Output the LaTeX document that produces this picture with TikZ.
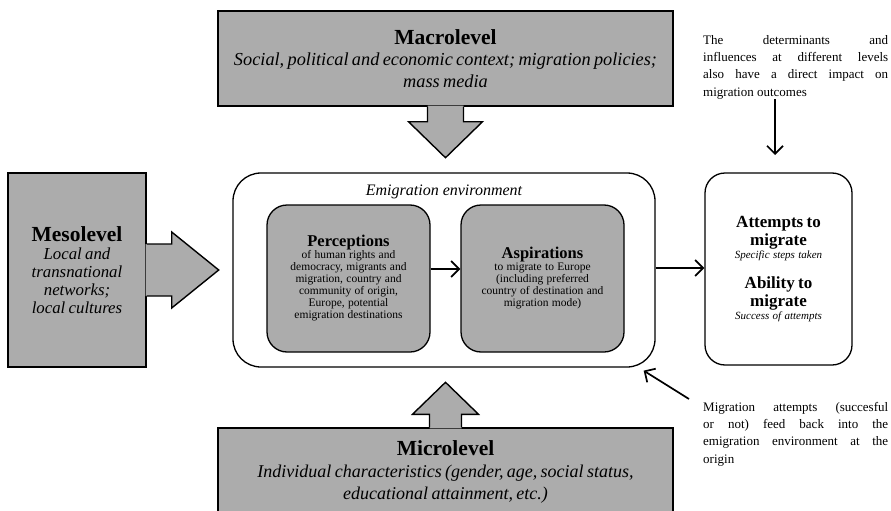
\documentclass[tikz,border=0pt]{standalone}
\usepackage{fontspec}
\setmainfont{Liberation Serif}
\usetikzlibrary{arrows.meta, calc}
\definecolor{levelgray}{RGB}{172,172,172}

\begin{document}
\begin{tikzpicture}[x=1pt, y=-1pt,
    levelbox/.style={draw, line width=1.4pt, fill=levelgray, inner sep=3pt, align=center},
    envbox/.style={draw, line width=1.3pt, rounded corners=28pt, inner sep=0pt},
    innerbox/.style={draw, line width=1.3pt, fill=levelgray, rounded corners=20pt, inner sep=3pt,
        text width=157pt, minimum width=163pt, minimum height=147pt, align=center},
    fatfill/.style={fill=levelgray},
    fatline/.style={line width=1.4pt, line join=miter},
    flow/.style={line width=1.7pt, -{Straight Barb[length=8pt, width=16pt, line width=1.7pt]}},
    note/.style={text width=185pt, align=justify, inner sep=0pt, anchor=north west,
        font=\fontsize{13}{17.3}\selectfont}]

    \useasboundingbox (0,0) rectangle (891,511);

    % the three levels
    \node (macro) [levelbox, text width=445pt, minimum width=455pt, minimum height=95pt] at (445.5,58.5)
        {{\fontsize{21.5}{24}\selectfont\bfseries Macrolevel\par}
         {\fontsize{18.3}{21.5}\selectfont\itshape Social, political and economic context; migration policies;\\ mass media\par}};
    \node (meso) [levelbox, text width=132pt, minimum width=138pt, minimum height=194pt] at (77,270)
        {{\fontsize{21.5}{24}\selectfont\bfseries Mesolevel\par}
         {\fontsize{16.8}{18}\selectfont\itshape Local and\\ transnational\\ networks;\\ local cultures\par}};
    \node (micro) [levelbox, text width=445pt, minimum width=455pt, minimum height=87pt] at (445.5,471.5)
        {{\fontsize{21.5}{24}\selectfont\bfseries Microlevel\par}
         {\fontsize{18}{22}\selectfont\itshape Individual characteristics (gender, age, social status,\\ educational attainment, etc.)\par}};

    % block arrows
    \fill[fatfill] ($(macro.south)+(-18,-1)$) -- ++(0,16) -- ++(-19,0) -- ($(macro.south)+(0,51)$)
        -- ($(macro.south)+(37,15)$) -- ++(-19,0) -- ++(0,-16) -- cycle;
    \draw[fatline] ($(macro.south)+(-18,0)$) -- ++(0,15) -- ++(-19,0) -- ($(macro.south)+(0,51)$)
        -- ($(macro.south)+(37,15)$) -- ++(-19,0) -- ++(0,-15);
    \fill[fatfill] ($(micro.north)+(-16,1)$) -- ++(0,-14) -- ++(-17,0) -- ($(micro.north)+(0,-45)$)
        -- ($(micro.north)+(33,-13)$) -- ++(-17,0) -- ++(0,14) -- cycle;
    \draw[fatline] ($(micro.north)+(-16,0)$) -- ++(0,-13) -- ++(-17,0) -- ($(micro.north)+(0,-45)$)
        -- ($(micro.north)+(33,-13)$) -- ++(-17,0) -- ++(0,13);
    \fill[fatfill] ($(meso.east)+(-1,-26)$) -- ++(26,0) -- ++(0,-12) -- ($(meso.east)+(72,0)$)
        -- ($(meso.east)+(25,38)$) -- ++(0,-12) -- ++(-26,0) -- cycle;
    \draw[fatline] ($(meso.east)+(0,-26)$) -- ++(25,0) -- ++(0,-12) -- ($(meso.east)+(72,0)$)
        -- ($(meso.east)+(25,38)$) -- ++(0,-12) -- ++(-25,0);

    % emigration environment
    \node (env) [envbox, minimum width=422pt, minimum height=194pt] at (444,270) {};
    \node (envlabel) [font=\fontsize{16}{18}\selectfont\itshape] at (444,192) {Emigration environment};
    \node (percep) [innerbox] at (348.5,278.5)
        {{\fontsize{16.5}{18}\selectfont\bfseries Perceptions\par}
         {\fontsize{11.5}{12}\selectfont of human rights and\\ democracy, migrants and\\ migration, country and\\
          community of origin,\\ Europe, potential\\ emigration destinations\par}};
    \node (aspir) [innerbox] at (542.5,278.5)
        {{\fontsize{16.5}{18}\selectfont\bfseries Aspirations\par}
         {\fontsize{11.5}{12}\selectfont to migrate to Europe\\ (including preferred\\ country of destination and\\
          migration mode)\par}};

    % outcomes
    \node (attempts) [draw, line width=1.3pt, fill=white, rounded corners=20pt, inner sep=3pt,
        text width=141pt, minimum width=147pt, minimum height=192pt, align=center] at (778.5,269)
        {{\fontsize{17}{18.5}\selectfont\bfseries Attempts to\\ migrate\par}
         {\fontsize{11}{13}\selectfont\itshape Specific steps taken\par}
         \vspace{11pt}
         {\fontsize{17}{18.5}\selectfont\bfseries Ability to\\ migrate\par}
         {\fontsize{11}{13}\selectfont\itshape Success of attempts\par}};

    % notes
    \node (topnote) [note] at (703,35)
        {The determinants and\linebreak influences at different levels\linebreak
         also have a direct impact on\linebreak migration outcomes};
    \node (fbnote) [note] at (703,402)
        {Migration attempts (succesful\linebreak or not) feed back into the\linebreak
         emigration environment at the\linebreak origin};

    \coordinate (impact) at (775,155);
    \draw[flow] ([yshift=9.5pt]percep.east) -- ([yshift=9.5pt]percep.east -| aspir.west);
    \draw[flow] ([yshift=2pt]env.east) -- ([yshift=2pt]env.east -| attempts.west);
    \draw[flow] (topnote.south -| impact) -- (impact);
    \draw[flow] ([xshift=-14pt,yshift=3pt]fbnote.north west) -- ([xshift=-12pt,yshift=-3pt]env.south east);

\end{tikzpicture}
\end{document}
